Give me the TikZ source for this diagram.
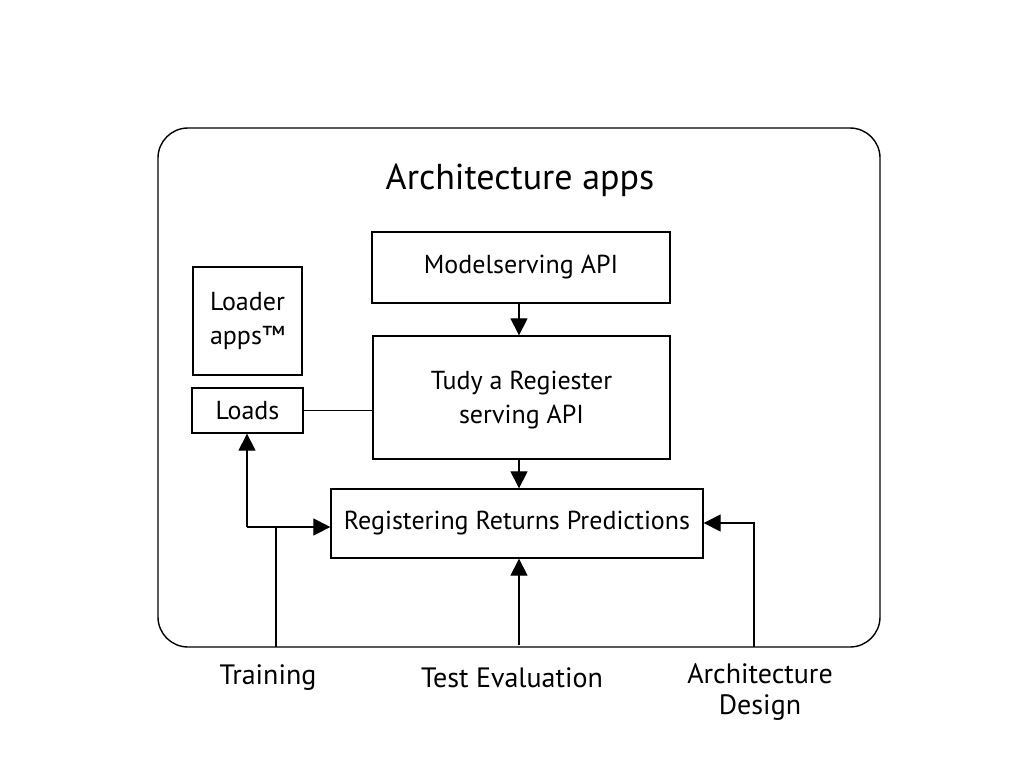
\documentclass[tikz,border=0pt]{standalone}
\usepackage{fontspec}
\setmainfont{PT Sans}
\usetikzlibrary{arrows.meta}
\begin{document}
\begin{tikzpicture}[x=1pt,y=-1pt,
  line width=1.3pt,
  box/.style={draw, line width=1.3pt, inner sep=0pt, font=\fontsize{26}{34}\selectfont},
  lbl/.style={font=\fontsize{28}{31}\selectfont, align=center},
  arr/.style={-{Triangle[length=17pt,width=17pt]}, line width=1.2pt}]
\useasboundingbox (0,0) rectangle (1024,768);
\draw[line width=1.4pt, rounded corners=30pt] (158,128) rectangle (880,647);
\node[font=\fontsize{36}{40}\selectfont] (title) at (520,180) {Architecture apps};
\node[box, minimum width=298pt, minimum height=71pt] (model) at (521,267.5) {Modelserving API};
\node[box, minimum width=297pt, minimum height=123pt, align=center, text depth=0pt] (tudy) at (521.5,397.5) {Tudy a Regiester\\serving API};
\node[box, minimum width=372pt, minimum height=69pt] (reg) at (517,523.5) {Registering Returns Predictions};
\node[box, minimum width=109pt, minimum height=108pt, align=center] (loader) at (247.5,321) {Loader\\apps™};
\node[box, minimum width=111pt, minimum height=45pt] (loads) at (247.5,410.5) {Loads};
\node[lbl] (train) at (268,678) {Training};
\node[lbl] (test) at (512,678) {Test Evaluation};
\node[lbl, anchor=north] (arch) at (760,660) {Architecture\\Design};
\coordinate (tb) at (276,647);
\coordinate (tj) at (276,527);
\coordinate (lc) at (247,527);
\coordinate (eb) at (519,645);
\coordinate (ab) at (754,647);
\coordinate (aj) at (754,523);
\draw (loads.east) -- (tudy.west |- loads.east);
\draw[arr] (model.south -| 519,0) -- (tudy.north -| 519,0);
\draw[arr] (tudy.south -| 519,0) -- (reg.north -| 519,0);
\draw[arr] (eb) -- (reg.south -| eb);
\draw (tb) -- (tj);
\draw[arr] (lc) -- (reg.west |- lc);
\draw[arr] (lc) -- (loads.south -| lc);
\draw[arr] (ab) -- (aj) -- (reg.east |- aj);
\end{tikzpicture}
\end{document}
